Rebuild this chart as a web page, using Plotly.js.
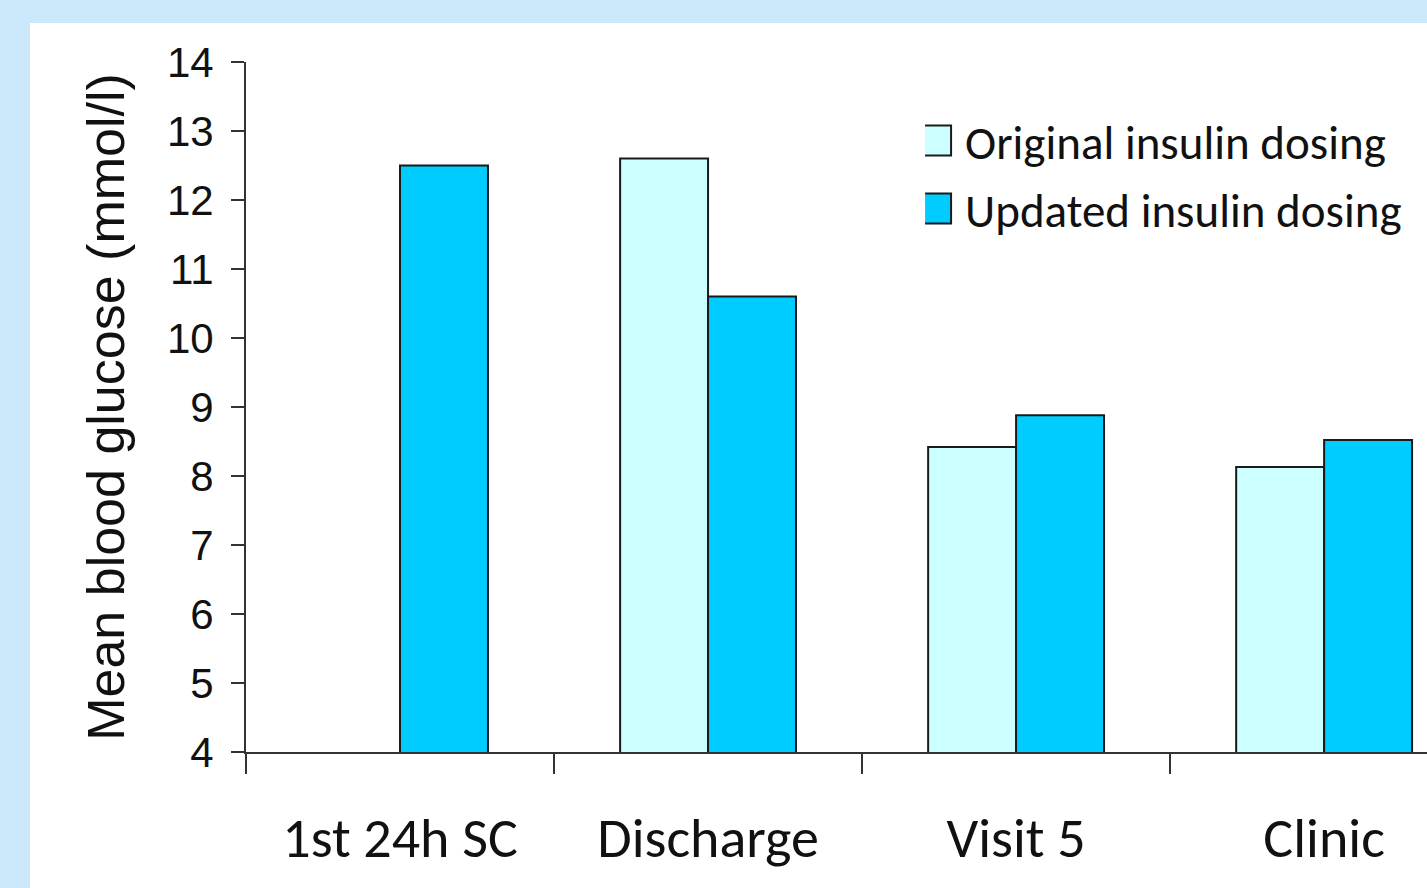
<!DOCTYPE html>
<html>
<head>
<meta charset="utf-8">
<script src="https://cdn.plot.ly/plotly-3.0.1.min.js"></script>
<style>
  html, body { margin: 0; padding: 0; width: 1427px; height: 888px; overflow: hidden; background: #cce9fb; }
  #chart { position: absolute; left: 30px; top: 23px; width: 1397px; height: 865px; background: #ffffff; }
</style>
</head>
<body>
<div id="chart"></div>
<script>
const categories = ['1st 24h SC', 'Discharge', 'Visit 5', 'Clinic'];
const originalDosing = [null, 12.6, 8.42, 8.13];
const updatedDosing = [12.5, 10.6, 8.88, 8.52];
const yTicks = [4, 5, 6, 7, 8, 9, 10, 11, 12, 13, 14];

const calibriLike = 'Carlito, Calibri, Lato, sans-serif';
const arialLike = 'Liberation Sans, Arial, sans-serif';

const traces = [
  {
    type: 'bar', name: 'Original insulin dosing', x: categories, y: originalDosing,
    marker: { color: '#ccffff', line: { color: '#1a1a1a', width: 2 } },
    legendgroup: 'a', hoverinfo: 'skip'
  },
  {
    type: 'bar', name: 'Updated insulin dosing', x: categories, y: updatedDosing,
    marker: { color: '#00ccff', line: { color: '#1a1a1a', width: 2 } },
    legendgroup: 'b', hoverinfo: 'skip'
  }
];

const layout = {
  width: 1397, height: 865,
  margin: { l: 216, r: 0, t: 39, b: 136 },
  paper_bgcolor: '#ffffff', plot_bgcolor: '#ffffff',
  barmode: 'group', bargap: 0.429, bargroupgap: 0,
  showlegend: true,
  legend: {
    x: 0.575, xanchor: 'left', y: 0.94, yanchor: 'top',
    font: { family: calibriLike, size: 47, color: '#111' },
    traceorder: 'grouped', tracegroupgap: 4,
    bgcolor: 'rgba(0,0,0,0)'
  },
  xaxis: {
    type: 'category', range: [-0.5, 3.334],
    showline: true, linecolor: '#333', linewidth: 2,
    ticks: 'outside', tickson: 'boundaries', ticklen: 20, tickwidth: 2, tickcolor: '#333',
    tickfont: { family: calibriLike, size: 56, color: '#111' },
    ticklabelstandoff: 36,
    showgrid: false, zeroline: false, fixedrange: true
  },
  yaxis: {
    range: [4, 14], tickvals: yTicks, ticktext: yTicks.map(String),
    showline: true, linecolor: '#333', linewidth: 2,
    ticks: 'outside', ticklen: 13, tickwidth: 2, tickcolor: '#333',
    tickfont: { family: arialLike, size: 42, color: '#111' },
    ticklabelstandoff: 9,
    showgrid: false, zeroline: false, fixedrange: true,
    title: { text: 'Mean blood glucose (mmol/l)', font: { family: arialLike, size: 52, color: '#111' }, standoff: 26 }
  }
};

Plotly.newPlot('chart', traces, layout, { displayModeBar: false, staticPlot: true }).then(function () {
  document.querySelectorAll('.legendpoints path').forEach(function (p) {
    p.setAttribute('d', 'M6,15H-22V-15H6Z');
    p.style.strokeWidth = '2px';
    p.style.stroke = '#1a1a1a';
  });
});
</script>
</body>
</html>
